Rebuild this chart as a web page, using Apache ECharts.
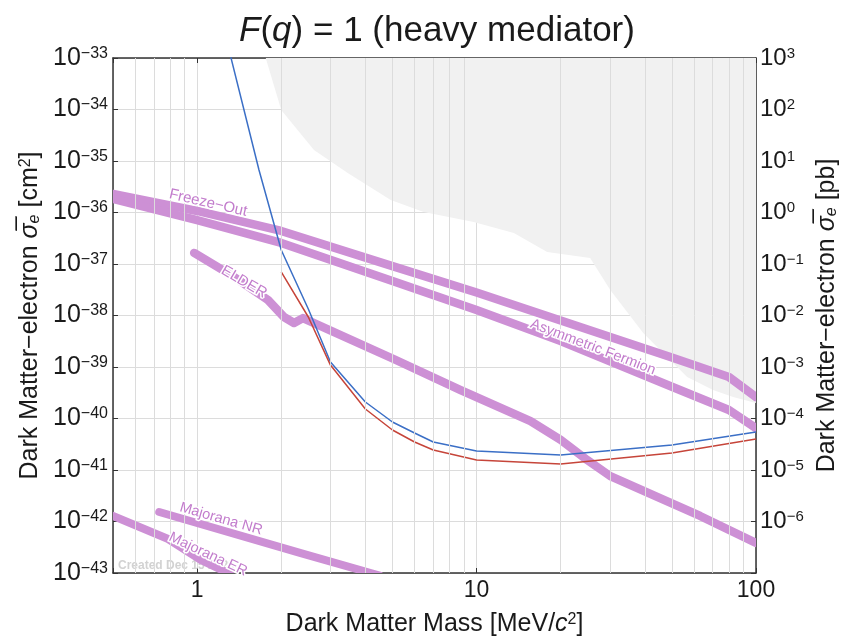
<!DOCTYPE html>
<html>
<head>
<meta charset="utf-8">
<script src="https://cdn.jsdelivr.net/npm/echarts@6/dist/echarts.min.js"></script>
<style>
  html, body { margin: 0; padding: 0; background: #fff; }
  #chart { width: 842px; height: 641px; }
</style>
</head>
<body>
<div id="chart"></div>
<script>
// ---- Data: dark matter mass in MeV/c^2, cross sections in cm^2 ----
const blueMass  = [1.3, 1.665, 2, 2.5, 3, 4, 5, 6, 7, 10, 20, 50, 100];
const blueSigma = [1.45e-33, 6.7e-36, 1.87e-37, 1.34e-38, 1.25e-39, 2.09e-40, 8.55e-41, 5.22e-41, 3.5e-41, 2.34e-41, 1.95e-41, 3.05e-41, 5.47e-41];

const redMass  = [2, 2.5, 3, 4, 5, 6, 7, 10, 20, 50, 100];
const redSigma = [7.0e-38, 9.35e-39, 1.09e-39, 1.53e-40, 5.98e-41, 3.5e-41, 2.44e-41, 1.56e-41, 1.31e-41, 2.14e-41, 4.0e-41];

// excluded region (filled up to the top of the plot)
const excludedMass  = [1.76, 2.0, 2.62, 3.46, 4.93, 6.47, 9.76, 13.6, 17.9, 25.5, 30.1, 39.5, 44.3, 56.7, 70.2, 82.8, 100];
const excludedSigma = [1.0e-33, 9.8e-35, 1.64e-35, 5.85e-36, 1.75e-36, 1.02e-36, 6.55e-37, 4.0e-37, 1.71e-37, 1.31e-37, 3.13e-38, 4.57e-39, 2.44e-39, 6.4e-40, 3.57e-40, 2.61e-40, 2.0e-40];

// theory targets
const relicMass        = [0.5, 1, 2, 5, 10, 20, 50, 80, 100];
const freezeOutSigma   = [2.29e-36, 1.07e-36, 4.38e-37, 9.1e-38, 2.8e-38, 8.0e-39, 1.53e-39, 6.4e-40, 2.6e-40];
const asymFermionSigma = [1.83e-36, 7.1e-37, 2.56e-37, 4.68e-38, 1.28e-38, 3.2e-39, 4.13e-40, 1.46e-40, 6.5e-41];

const elderMass  = [0.976, 1.356, 1.793, 2.045, 2.222, 2.392, 5.05, 8.77, 15.6, 20, 24.9, 30.1, 63.1, 100];
const elderSigma = [1.64e-37, 5.6e-38, 2.0e-38, 9.35e-39, 7.15e-39, 8.9e-39, 1.43e-39, 3.57e-40, 8.9e-41, 3.83e-41, 1.56e-41, 7.6e-42, 1.28e-42, 3.83e-43];

const majoranaNRMass  = [0.732, 2.35, 4.18, 4.5];
const majoranaNRSigma = [1.53e-42, 2.44e-43, 1.0e-43, 8.9e-44];

const majoranaERMass  = [0.45, 0.5, 0.788, 1.03, 1.29, 1.4];
const majoranaERSigma = [1.63e-42, 1.28e-42, 4.57e-43, 1.79e-43, 1.0e-43, 8.1e-44];

// minor vertical grid lines
const minorGridMass = [0.6, 0.7, 0.8, 0.9, 2, 3, 4, 5, 6, 7, 8, 9, 20, 30, 40, 50, 60, 70, 80, 90];

// 1 pb = 1e-36 cm^2; the plot is laid out in pb and the left axis relabelled in cm^2
const CM2_PER_PB = 1e-36;
const PB_EXP_OFFSET = -36;

// ---- Styling ----
const FONT = '"Liberation Sans", Arial, Helvetica, sans-serif';
const INK = '#1a1a1a';
const AXIS = '#333333';
const GRID = '#dcdcdc';
const BAND = '#cd90d5';
const BAND_TEXT = '#c27ccc';

const toPb = s => s / CM2_PER_PB;
const zip = (xs, ys) => xs.map((x, i) => [x, toPb(ys[i])]);
const isPow10 = v => Math.abs(Math.log10(v) - Math.round(Math.log10(v))) < 1e-6;
const expText = e => (e < 0 ? '\u2212' : '') + Math.abs(e);

function powerLabel(offset, hideExp) {
  return v => {
    if (!isPow10(v)) return '';
    const e = Math.round(Math.log10(v));
    if (e === hideExp) return '';
    return '10{s|' + expText(e + offset) + '}';
  };
}

function bandSeries(name, mass, sigma, width) {
  const pts = zip(mass, sigma);
  return {
    name, type: 'custom', coordinateSystem: 'cartesian2d',
    xAxisIndex: 0, yAxisIndex: 0, clip: true, silent: true, z: 3,
    data: pts, encode: { x: 0, y: 1 },
    renderItem(params, api) {
      if (params.dataIndex !== 0) return null;
      return {
        type: 'polyline',
        shape: { points: pts.map(p => api.coord(p)) },
        style: { stroke: BAND, lineWidth: width, fill: null, lineCap: 'round', lineJoin: 'round' }
      };
    }
  };
}

const chart = echarts.init(document.getElementById('chart'), null, { renderer: 'canvas' });

const tickLabelRich = size => ({ s: { fontSize: Math.round(size * 0.63), fontFamily: FONT, color: INK, verticalAlign: 'top' } });

const yAxisBase = {
  type: 'log', logBase: 10, min: 1e-7, max: 1e3, interval: 1, splitNumber: 10,
  axisLine: { show: true, lineStyle: { color: AXIS, width: 1.5 } },
  axisTick: { show: true, inside: true, length: 5, lineStyle: { color: AXIS } }
};

chart.setOption({
  animation: false,
  backgroundColor: '#fff',
  title: {
    text: '{i|F}({i|q}) = 1 (heavy mediator)',
    left: 432, top: 9, textAlign: 'center',
    textStyle: {
      fontFamily: FONT, fontSize: 35, fontWeight: 'normal', color: INK,
      rich: { i: { fontFamily: FONT, fontSize: 35, fontStyle: 'italic', color: INK } }
    }
  },
  grid: { left: 113, right: 86, top: 58, bottom: 68, containLabel: false, outerBoundsMode: 'none' },
  xAxis: [
    {
      type: 'log', logBase: 10, min: 0.5, max: 100, position: 'bottom',
      axisLine: { show: true, lineStyle: { color: AXIS, width: 1.5 } },
      axisTick: { show: true, inside: true, length: 5, lineStyle: { color: AXIS } },
      splitLine: { show: true, lineStyle: { color: GRID, width: 1 } },
      axisLabel: {
        fontFamily: FONT, fontSize: 23, color: INK, margin: 6,
        formatter: v => (isPow10(v) ? String(Math.round(v)) : '')
      },
      name: 'Dark Matter Mass [MeV/{i|c}{sup|2}]',
      nameLocation: 'middle', nameGap: 39,
      nameTextStyle: {
        fontFamily: FONT, fontSize: 25, color: INK,
        rich: {
          i: { fontFamily: FONT, fontSize: 25, fontStyle: 'italic', color: INK },
          sup: { fontFamily: FONT, fontSize: 16, color: INK, verticalAlign: 'top' }
        }
      }
    },
    {
      type: 'log', logBase: 10, min: 0.5, max: 100, position: 'top',
      axisLine: { show: true, lineStyle: { color: AXIS, width: 1.5 } },
      axisTick: { show: true, inside: true, length: 5, lineStyle: { color: AXIS } },
      splitLine: { show: false },
      axisLabel: { show: false }
    }
  ],
  yAxis: [
    Object.assign({}, yAxisBase, {
      position: 'left',
      splitLine: { show: true, lineStyle: { color: GRID, width: 1 } },
      axisLabel: {
        fontFamily: FONT, fontSize: 25, color: INK, margin: 5,
        formatter: powerLabel(PB_EXP_OFFSET, null), rich: tickLabelRich(25)
      },
      name: 'Dark Matter\u2212electron {sig|\u03C3\u0305}{sub|e} [cm{sup|2}]',
      nameLocation: 'middle', nameGap: 70, nameRotate: 90,
      nameTextStyle: {
        fontFamily: FONT, fontSize: 25, color: INK,
        rich: {
          sig: { fontFamily: FONT, fontSize: 25, fontStyle: 'italic', color: INK },
          sub: { fontFamily: FONT, fontSize: 16, fontStyle: 'italic', color: INK, verticalAlign: 'bottom' },
          sup: { fontFamily: FONT, fontSize: 16, color: INK, verticalAlign: 'top' }
        }
      }
    }),
    Object.assign({}, yAxisBase, {
      position: 'right',
      splitLine: { show: false },
      axisLabel: {
        fontFamily: FONT, fontSize: 24, color: INK, margin: 4,
        formatter: powerLabel(0, -7), rich: tickLabelRich(24)
      },
      name: 'Dark Matter\u2212electron {sig|\u03C3\u0305}{sub|e} [pb]',
      nameLocation: 'middle', nameGap: 56, nameRotate: 90,
      nameTextStyle: {
        fontFamily: FONT, fontSize: 25, color: INK,
        rich: {
          sig: { fontFamily: FONT, fontSize: 25, fontStyle: 'italic', color: INK },
          sub: { fontFamily: FONT, fontSize: 16, fontStyle: 'italic', color: INK, verticalAlign: 'bottom' }
        }
      }
    })
  ],
  series: [
    {
      name: 'minor grid', type: 'line', xAxisIndex: 0, yAxisIndex: 0, z: 1,
      data: [], silent: true,
      markLine: {
        silent: true, symbol: ['none', 'none'], animation: false,
        label: { show: false },
        lineStyle: { color: GRID, width: 1, type: 'solid' },
        data: minorGridMass.map(m => ({ xAxis: m }))
      }
    },
    {
      name: 'excluded', type: 'line', xAxisIndex: 0, yAxisIndex: 0, z: 2,
      data: zip(excludedMass, excludedSigma), symbol: 'none', silent: true,
      lineStyle: { width: 0, opacity: 0 },
      areaStyle: { color: '#f1f1f1', opacity: 1, origin: 'end' }
    },
    bandSeries('Freeze-Out', relicMass, freezeOutSigma, 8.5),
    bandSeries('Asymmetric Fermion', relicMass, asymFermionSigma, 8.5),
    bandSeries('ELDER', elderMass, elderSigma, 8.5),
    bandSeries('Majorana NR', majoranaNRMass, majoranaNRSigma, 8),
    bandSeries('Majorana ER', majoranaERMass, majoranaERSigma, 8),
    {
      name: 'limit A', type: 'line', xAxisIndex: 0, yAxisIndex: 0, z: 4,
      data: zip(blueMass, blueSigma), symbol: 'none', silent: true,
      lineStyle: { color: '#3b6fc6', width: 1.5 }
    },
    {
      name: 'limit B', type: 'line', xAxisIndex: 0, yAxisIndex: 0, z: 4,
      data: zip(redMass, redSigma), symbol: 'none', silent: true,
      lineStyle: { color: '#c6453a', width: 1.5 }
    }
  ]
});

// Curve annotations, anchored in data coordinates (mass, cm^2)
const curveLabels = [
  { text: 'Freeze\u2212Out', at: [1.095, 1.53e-36], angle: 13, size: 15 },
  { text: 'ELDER', at: [1.471, 4.47e-38], angle: 30, size: 15 },
  { text: 'Asymmetric Fermion', at: [26.1, 2.44e-39], angle: 21, size: 14.5 },
  { text: 'Majorana NR', at: [1.218, 1.12e-42], angle: 16, size: 14.5 },
  { text: 'Majorana ER', at: [1.095, 2.3e-43], angle: 25, size: 14.5 }
];

const graphics = [{
  type: 'text', left: 118, top: 560, z: 1, silent: true,
  style: { text: 'Created Dec 15 2020', fill: '#d2d2d2', fontFamily: FONT, fontSize: 12, fontWeight: 'bold' }
}];
curveLabels.forEach(d => {
  const [x, y] = chart.convertToPixel({ xAxisIndex: 0, yAxisIndex: 0 }, [d.at[0], toPb(d.at[1])]);
  const base = { type: 'text', x, y, rotation: -d.angle * Math.PI / 180, silent: true };
  graphics.push(Object.assign({}, base, {
    z: 9,
    style: { text: d.text, fontFamily: FONT, fontSize: d.size, fill: '#fff', stroke: '#fff', lineWidth: 3, align: 'center', verticalAlign: 'middle' }
  }));
  graphics.push(Object.assign({}, base, {
    z: 10,
    style: { text: d.text, fontFamily: FONT, fontSize: d.size, fill: BAND_TEXT, align: 'center', verticalAlign: 'middle' }
  }));
});
chart.setOption({ graphic: graphics });
</script>
</body>
</html>
